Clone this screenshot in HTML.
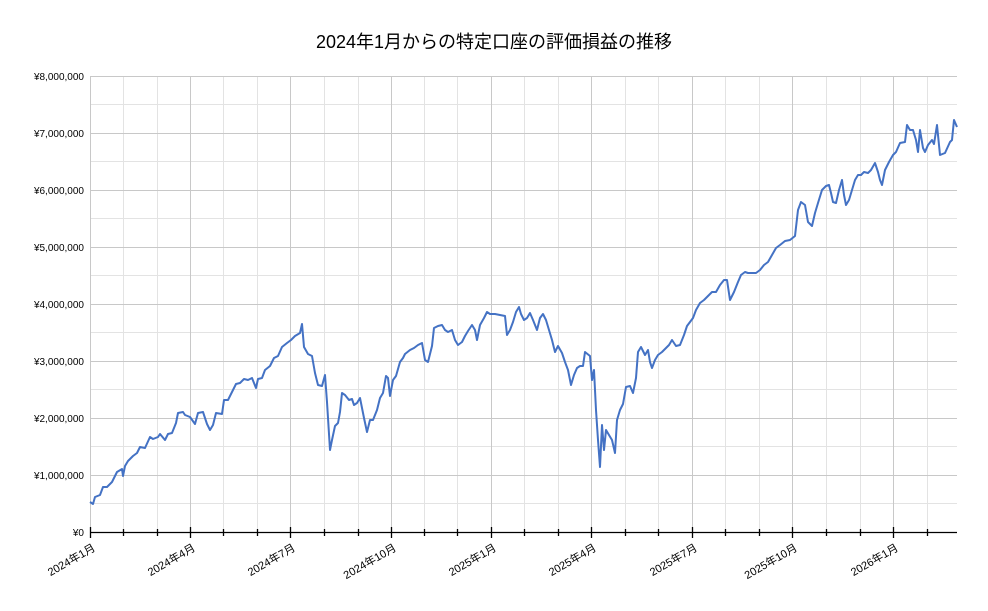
<!DOCTYPE html>
<html><head><meta charset="utf-8"><style>
html,body{margin:0;padding:0;background:#fff}
svg{display:block;font-family:"Liberation Sans","Noto Sans CJK JP",sans-serif}
</style></head><body>
<svg width="988" height="611" viewBox="0 0 988 611" xmlns="http://www.w3.org/2000/svg">
<rect width="988" height="611" fill="#fff"/>
<text x="494" y="48" text-anchor="middle" font-size="18" fill="#000">2024年1月からの特定口座の評価損益の推移</text>
<g stroke="#e3e3e3" stroke-width="1">
<line x1="90" y1="104.5" x2="957" y2="104.5"/><line x1="90" y1="161.5" x2="957" y2="161.5"/><line x1="90" y1="218.5" x2="957" y2="218.5"/><line x1="90" y1="275.5" x2="957" y2="275.5"/><line x1="90" y1="332.5" x2="957" y2="332.5"/><line x1="90" y1="389.5" x2="957" y2="389.5"/><line x1="90" y1="446.5" x2="957" y2="446.5"/><line x1="90" y1="503.5" x2="957" y2="503.5"/>
<line x1="123.5" y1="76" x2="123.5" y2="532"/><line x1="157.5" y1="76" x2="157.5" y2="532"/><line x1="223.5" y1="76" x2="223.5" y2="532"/><line x1="257.5" y1="76" x2="257.5" y2="532"/><line x1="324.5" y1="76" x2="324.5" y2="532"/><line x1="358.5" y1="76" x2="358.5" y2="532"/><line x1="424.5" y1="76" x2="424.5" y2="532"/><line x1="457.5" y1="76" x2="457.5" y2="532"/><line x1="524.5" y1="76" x2="524.5" y2="532"/><line x1="558.5" y1="76" x2="558.5" y2="532"/><line x1="625.5" y1="76" x2="625.5" y2="532"/><line x1="658.5" y1="76" x2="658.5" y2="532"/><line x1="725.5" y1="76" x2="725.5" y2="532"/><line x1="759.5" y1="76" x2="759.5" y2="532"/><line x1="826.5" y1="76" x2="826.5" y2="532"/><line x1="860.5" y1="76" x2="860.5" y2="532"/><line x1="927.5" y1="76" x2="927.5" y2="532"/>
</g>
<g stroke="#c8c8c8" stroke-width="1">
<line x1="90" y1="76.5" x2="957" y2="76.5"/><line x1="90" y1="133.5" x2="957" y2="133.5"/><line x1="90" y1="190.5" x2="957" y2="190.5"/><line x1="90" y1="247.5" x2="957" y2="247.5"/><line x1="90" y1="304.5" x2="957" y2="304.5"/><line x1="90" y1="361.5" x2="957" y2="361.5"/><line x1="90" y1="418.5" x2="957" y2="418.5"/><line x1="90" y1="475.5" x2="957" y2="475.5"/>
<line x1="90.5" y1="76" x2="90.5" y2="532"/><line x1="190.5" y1="76" x2="190.5" y2="532"/><line x1="290.5" y1="76" x2="290.5" y2="532"/><line x1="391.5" y1="76" x2="391.5" y2="532"/><line x1="491.5" y1="76" x2="491.5" y2="532"/><line x1="591.5" y1="76" x2="591.5" y2="532"/><line x1="692.5" y1="76" x2="692.5" y2="532"/><line x1="792.5" y1="76" x2="792.5" y2="532"/><line x1="893.5" y1="76" x2="893.5" y2="532"/>
</g>
<polyline fill="none" stroke="#4472c4" stroke-width="2" stroke-linejoin="round" points="90,502 93,504 95,497 100,495 103,487 107,487 112,482 117,472 122,469 123,476 125,466 128,461 133,456 137,453 140,447 145,448 150,437 153,439 158,437 160,434 165,440 168,434 172,433 176,423 178,413 183,412 185,415 190,417 195,424 198,413 203,412 207,424 210,430 213,425 216,413 222,414 224,400 228,400 233,390 236,384 240,383 244,379 248,380 252,378 256,388 258,379 262,378 265,370 270,366 274,358 278,356 282,347 287,343 291,340 295,336 300,333 302,324 304,347 308,354 312,356 315,373 318,385 322,386 325,375 327,402 330,450 332,440 335,426 338,423 340,412 342,393 345,395 349,400 352,399 354,405 357,403 360,398 362,408 364,418 367,432 370,420 373,420 377,410 380,398 383,393 386,376 388,378 390,396 393,380 396,376 400,362 403,358 405,354 410,350 414,348 418,345 422,343 425,360 428,362 432,346 434,328 438,326 442,325 445,330 448,332 452,330 455,340 458,345 462,342 465,336 468,331 472,325 475,330 477,340 480,325 484,318 487,312 490,314 495,314 500,315 505,316 507,335 510,330 513,322 516,312 519,307 521,314 524,320 527,318 530,313 533,320 537,330 540,318 543,314 546,320 549,330 552,340 555,352 558,346 562,353 565,362 568,370 571,385 574,375 577,368 580,366 583,366 585,352 590,356 592,380 594,370 596,410 598,440 600,467 602,425 604,450 606,430 609,435 612,440 615,453 617,420 620,410 623,404 626,387 630,386 633,393 636,378 638,352 641,347 645,355 648,350 650,362 652,368 655,360 658,355 662,352 666,348 669,345 672,340 676,346 680,345 684,335 687,326 690,322 693,318 696,310 700,303 704,300 708,296 712,292 716,292 720,285 724,280 727,280 730,300 734,292 738,282 741,275 745,272 748,273 752,273 756,273 760,270 764,265 768,262 772,255 776,248 780,245 785,241 790,240 795,236 798,210 801,202 805,205 808,222 812,226 815,213 818,203 822,190 826,186 829,185 831,193 833,202 836,203 839,190 842,180 844,195 846,205 849,200 852,190 855,180 858,175 861,175 864,172 868,173 871,170 875,163 878,172 880,180 882,185 885,170 889,162 893,155 896,152 900,143 905,142 907,125 910,130 913,130 916,140 918,152 920,130 923,148 925,152 928,145 932,140 934,144 937,125 940,155 945,153 950,142 952,140 954,120 957,127"/>
<g stroke="#000" stroke-width="1.3">
<line x1="90" y1="532.5" x2="957" y2="532.5"/>
<line x1="90.5" y1="527" x2="90.5" y2="538"/><line x1="190.5" y1="527" x2="190.5" y2="538"/><line x1="290.5" y1="527" x2="290.5" y2="538"/><line x1="391.5" y1="527" x2="391.5" y2="538"/><line x1="491.5" y1="527" x2="491.5" y2="538"/><line x1="591.5" y1="527" x2="591.5" y2="538"/><line x1="692.5" y1="527" x2="692.5" y2="538"/><line x1="792.5" y1="527" x2="792.5" y2="538"/><line x1="893.5" y1="527" x2="893.5" y2="538"/>
<line x1="123.5" y1="529" x2="123.5" y2="536"/><line x1="157.5" y1="529" x2="157.5" y2="536"/><line x1="223.5" y1="529" x2="223.5" y2="536"/><line x1="257.5" y1="529" x2="257.5" y2="536"/><line x1="324.5" y1="529" x2="324.5" y2="536"/><line x1="358.5" y1="529" x2="358.5" y2="536"/><line x1="424.5" y1="529" x2="424.5" y2="536"/><line x1="457.5" y1="529" x2="457.5" y2="536"/><line x1="524.5" y1="529" x2="524.5" y2="536"/><line x1="558.5" y1="529" x2="558.5" y2="536"/><line x1="625.5" y1="529" x2="625.5" y2="536"/><line x1="658.5" y1="529" x2="658.5" y2="536"/><line x1="725.5" y1="529" x2="725.5" y2="536"/><line x1="759.5" y1="529" x2="759.5" y2="536"/><line x1="826.5" y1="529" x2="826.5" y2="536"/><line x1="860.5" y1="529" x2="860.5" y2="536"/><line x1="927.5" y1="529" x2="927.5" y2="536"/>
</g>
<g font-size="10" fill="#000" text-anchor="end">
<text x="84" y="80">¥8,000,000</text><text x="84" y="137">¥7,000,000</text><text x="84" y="194">¥6,000,000</text><text x="84" y="251">¥5,000,000</text><text x="84" y="308">¥4,000,000</text><text x="84" y="365">¥3,000,000</text><text x="84" y="422">¥2,000,000</text><text x="84" y="479">¥1,000,000</text><text x="84" y="536">¥0</text>
</g>
<g font-size="11" fill="#000" text-anchor="end">
<text transform="translate(96,550) rotate(-30)">2024年1月</text>
<text transform="translate(196,550) rotate(-30)">2024年4月</text>
<text transform="translate(296,550) rotate(-30)">2024年7月</text>
<text transform="translate(397,550) rotate(-30)">2024年10月</text>
<text transform="translate(497,550) rotate(-30)">2025年1月</text>
<text transform="translate(597,550) rotate(-30)">2025年4月</text>
<text transform="translate(698,550) rotate(-30)">2025年7月</text>
<text transform="translate(798,550) rotate(-30)">2025年10月</text>
<text transform="translate(899,550) rotate(-30)">2026年1月</text>
</g>
</svg>
</body></html>
